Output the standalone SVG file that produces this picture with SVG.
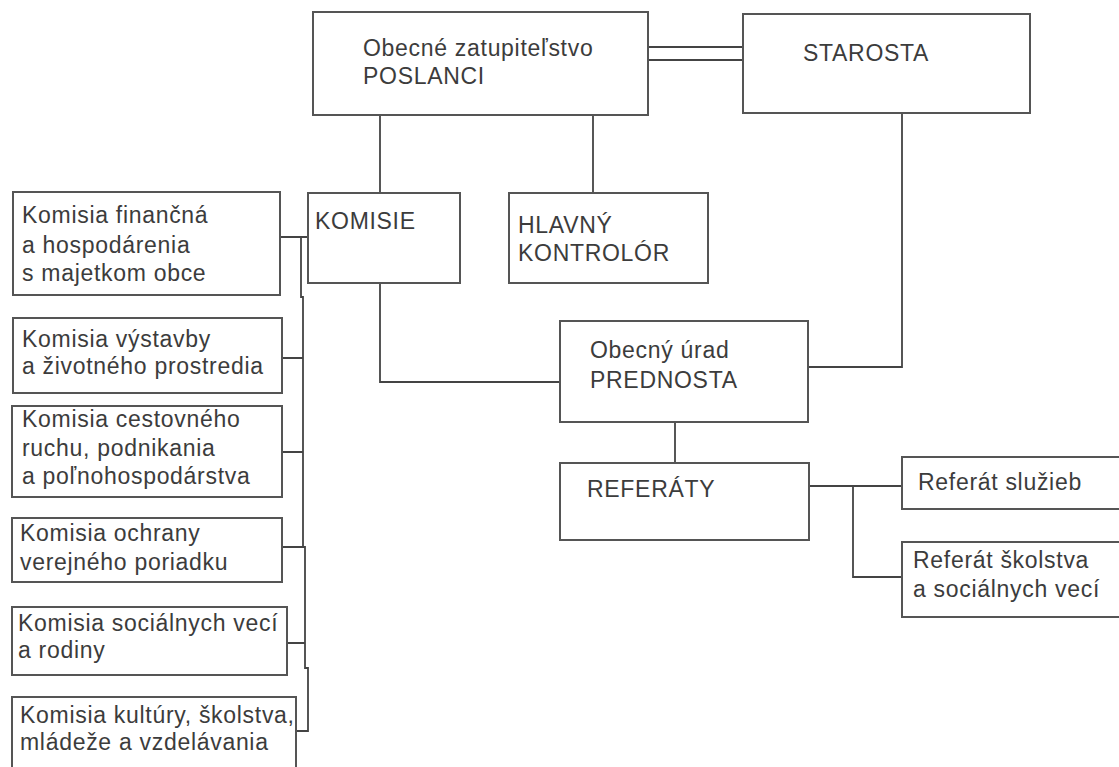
<svg xmlns="http://www.w3.org/2000/svg" width="1119" height="767" viewBox="0 0 1119 767">
<style>
.box{fill:#fff;stroke:#555;stroke-width:2}
.t{font-family:"Liberation Sans",Arial,sans-serif;font-size:23px;fill:#3c3c3c;letter-spacing:0.7px}
.c{fill:none;stroke:#444;stroke-width:1.8}
</style>
<rect width="1119" height="767" fill="#fff"/>
<g id="connectors">
<path class="c" d="M648 47H743M648 60H743"/>
<path class="c" d="M380 115V193"/>
<path class="c" d="M593 115V193"/>
<path class="c" d="M380 283V382H560"/>
<path class="c" d="M902 113V367H808"/>
<path class="c" d="M675 422V463"/>
<path class="c" d="M809 486H902M853 486V577H902"/>
<path class="c" d="M280 237H308M301 237V297H303V547H305V668H308V731H296"/>
<path class="c" d="M282 358H303M282 452H303M282 547H305M287 643H305"/>
</g>
<g id="zastupitelstvo"><rect class="box" x="313" y="12" width="335" height="103"/><text class="t" x="363" y="56">Obecné zatupiteľstvo</text><text class="t" x="363" y="84">POSLANCI</text></g>
<g id="starosta"><rect class="box" x="743" y="14" width="287" height="99"/><text class="t" x="803" y="61">STAROSTA</text></g>
<g id="komisie"><rect class="box" x="308" y="193" width="152" height="90"/><text class="t" x="315" y="229">KOMISIE</text></g>
<g id="kontrolor"><rect class="box" x="509" y="193" width="199" height="90"/><text class="t" x="518" y="233">HLAVNÝ</text><text class="t" x="518" y="261">KONTROLÓR</text></g>
<g id="urad"><rect class="box" x="560" y="321" width="248" height="101"/><text class="t" x="590" y="358">Obecný úrad</text><text class="t" x="590" y="388">PREDNOSTA</text></g>
<g id="referaty"><rect class="box" x="560" y="463" width="249" height="77"/><text class="t" x="587" y="497">REFERÁTY</text></g>
<g id="ref-sluzieb"><rect class="box" x="902" y="457" width="222" height="52"/><text class="t" x="918" y="490">Referát služieb</text></g>
<g id="ref-skolstva"><rect class="box" x="902" y="542" width="222" height="75"/><text class="t" x="913" y="568">Referát školstva</text><text class="t" x="913" y="597">a sociálnych vecí</text></g>
<g id="kom-financna"><rect class="box" x="13" y="192" width="267" height="103"/><text class="t" x="22" y="223">Komisia finančná</text><text class="t" x="22" y="253">a hospodárenia</text><text class="t" x="22" y="281">s majetkom obce</text></g>
<g id="kom-vystavby"><rect class="box" x="13" y="318" width="269" height="75"/><text class="t" x="22" y="347">Komisia výstavby</text><text class="t" x="22" y="374">a životného prostredia</text></g>
<g id="kom-cestovneho"><rect class="box" x="12" y="406" width="270" height="91"/><text class="t" x="22" y="427">Komisia cestovného</text><text class="t" x="22" y="456">ruchu, podnikania</text><text class="t" x="22" y="484">a poľnohospodárstva</text></g>
<g id="kom-ochrany"><rect class="box" x="12" y="518" width="270" height="64"/><text class="t" x="20" y="541">Komisia ochrany</text><text class="t" x="20" y="570">verejného poriadku</text></g>
<g id="kom-socialnych"><rect class="box" x="12" y="607" width="275" height="68"/><text class="t" x="18" y="631">Komisia sociálnych vecí</text><text class="t" x="18" y="658">a rodiny</text></g>
<g id="kom-kultury"><rect class="box" x="12" y="697" width="284" height="75"/><text class="t" x="20" y="723">Komisia kultúry, školstva,</text><text class="t" x="20" y="750">mládeže a vzdelávania</text></g>
</svg>
